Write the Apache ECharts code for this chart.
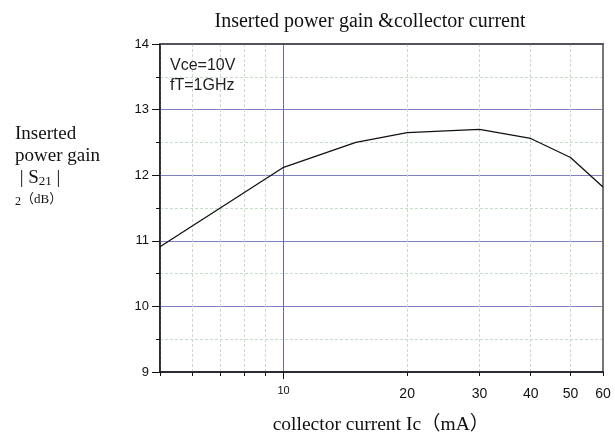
<!DOCTYPE html>
<html>
<head>
<meta charset="utf-8">
<script src="https://cdn.jsdelivr.net/npm/echarts@6/dist/echarts.min.js"></script>
<style>
  html, body { margin: 0; padding: 0; background: #fff; }
  #chart { width: 615px; height: 435px; }
</style>
</head>
<body>
<div id="chart"></div>
<script>
// collector current Ic (mA) and inserted power gain |S21|^2 (dB)
const current = [5, 10, 15, 20, 30, 40, 50, 60];
const gain = [10.91, 12.12, 12.50, 12.65, 12.70, 12.56, 12.27, 11.82];

// x axis ticks (log scale)
const xMinorTicks = [5, 6, 7, 8, 9, 20, 30, 40, 50, 60];
const xMinorLabels = [20, 30, 40, 50, 60];
const xMajorTicks = [10];

// y axis ticks
const yMinorTicks = [9.5, 10.5, 11.5, 12.5, 13.5];
const yMajorTicks = [9, 10, 11, 12, 13, 14];

const serif = '"Liberation Serif", "Times New Roman", serif';
const sans = '"Liberation Sans", Arial, sans-serif';
const dashColor = '#c9dcc9';
const solidColor = '#7e7ec0';

const chart = echarts.init(document.getElementById('chart'));

const option = {
  animation: false,
  backgroundColor: '#fff',
  title: [
    {
      text: 'Inserted power gain &collector current',
      left: 365, top: 7, textAlign: 'center',
      textStyle: { fontFamily: serif, fontSize: 20, fontWeight: 'normal', color: '#111' }
    },
    {
      text: 'Vce=10V\nfT=1GHz',
      left: 165, top: 51,
      textStyle: { fontFamily: sans, fontSize: 16, fontWeight: 'normal', color: '#222', lineHeight: 20 }
    },
    {
      text: 'Inserted\npower gain\n | S{sub|21} |\n{small|2}{dB|（dB）}',
      left: 10, top: 118,
      textStyle: {
        fontFamily: serif, fontSize: 19, fontWeight: 'normal', color: '#111', lineHeight: 22,
        rich: {
          sub: { fontFamily: serif, fontSize: 13, color: '#111', padding: [7, 0, 0, 0] },
          small: { fontFamily: serif, fontSize: 12, color: '#111', padding: [4, 0, 0, 0] },
          dB: { fontFamily: serif + ', "Noto Sans CJK SC"', fontSize: 13, color: '#111' }
        }
      }
    },
    {
      text: 'collector current Ic（mA）',
      left: 376, top: 410, textAlign: 'center',
      textStyle: { fontFamily: serif + ', "Noto Sans CJK SC"', fontSize: 19.5, fontWeight: 'normal', color: '#111' }
    }
  ],
  grid: {
    left: 160, right: 12, top: 44, bottom: 63,
    show: true, borderColor: '#555', borderWidth: 1.5
  },
  xAxis: [
    {
      type: 'log', min: 5, max: 60, position: 'bottom',
      axisLine: { show: true, lineStyle: { color: '#111', width: 1.5 } },
      axisTick: { show: true, inside: false, length: 4, customValues: xMinorTicks, lineStyle: { color: '#111' } },
      axisLabel: { customValues: xMinorLabels, margin: 15, fontFamily: sans, fontSize: 14, color: '#111' },
      splitLine: { show: true, lineStyle: { color: dashColor, type: [3, 2], width: 1 } },
      minorTick: { show: false }
    },
    {
      type: 'log', min: 5, max: 60, position: 'bottom',
      axisLine: { show: false },
      axisTick: { show: true, inside: false, length: 7, customValues: xMajorTicks, lineStyle: { color: '#111' } },
      axisLabel: { customValues: xMajorTicks, margin: 13, fontFamily: sans, fontSize: 11, color: '#111' },
      splitLine: { show: true, lineStyle: { color: '#6a6aaa', width: 1 } }
    },
    {
      // top frame line
      type: 'log', min: 5, max: 60, position: 'top',
      axisLine: { show: true, lineStyle: { color: '#444', width: 1.5 } },
      axisTick: { show: false },
      axisLabel: { show: false },
      splitLine: { show: false }
    }
  ],
  yAxis: [
    {
      type: 'value', min: 9, max: 14, interval: 0.5, position: 'left',
      axisLine: { show: false },
      axisTick: { show: true, inside: false, length: 4, customValues: yMinorTicks, lineStyle: { color: '#111' } },
      axisLabel: { show: false },
      splitLine: { show: true, lineStyle: { color: dashColor, type: [3, 2], width: 1 } }
    },
    {
      type: 'value', min: 9, max: 14, interval: 1, position: 'left',
      axisLine: { show: true, lineStyle: { color: '#111', width: 1.5 } },
      axisTick: { show: true, inside: false, length: 8, customValues: yMajorTicks, lineStyle: { color: '#111' } },
      axisLabel: { margin: 11, fontFamily: sans, fontSize: 13, color: '#111' },
      splitLine: { show: true, lineStyle: { color: solidColor, width: 1 } }
    },
    {
      // right frame line
      type: 'value', min: 9, max: 14, position: 'right',
      axisLine: { show: true, lineStyle: { color: '#777', width: 2 } },
      axisTick: { show: false },
      axisLabel: { show: false },
      splitLine: { show: false }
    }
  ],
  series: [
    {
      type: 'line',
      xAxisIndex: 0,
      yAxisIndex: 1,
      data: current.map((c, i) => [c, gain[i]]),
      showSymbol: false,
      symbol: 'none',
      lineStyle: { color: '#111', width: 1.3 },
      z: 5
    }
  ]
};

chart.setOption(option);
</script>
</body>
</html>
